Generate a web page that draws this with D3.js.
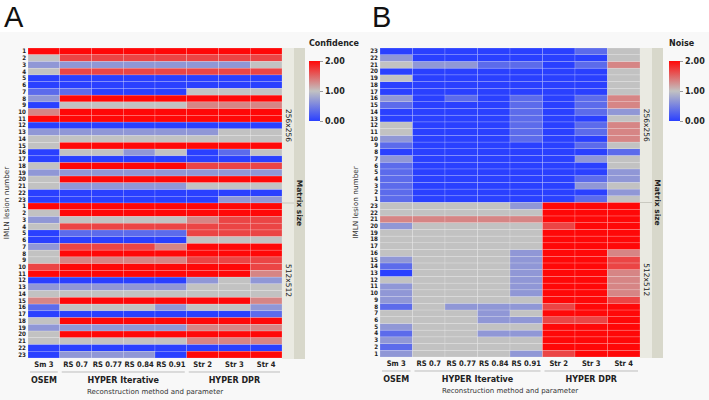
<!DOCTYPE html>
<html>
<head>
<meta charset="utf-8">
<script src="https://cdn.jsdelivr.net/npm/d3@7"></script>
<style>
body { margin: 0; background: #fff; }
svg { font-family: "DejaVu Sans", Verdana, sans-serif; display: block; }
</style>
</head>
<body>
<div id="chart"></div>
<script>
// columns of both heatmaps
const methods = ["Sm 3", "RS 0.7", "RS 0.77", "RS 0.84", "RS 0.91", "Str 2", "Str 3", "Str 4"];
const groupNames = ["OSEM", "HYPER Iterative", "HYPER DPR"];
const groupFirst = ["Sm 3", "RS 0.7", "Str 2"];
const groupLast = ["Sm 3", "RS 0.91", "Str 4"];
const lesions = [1, 2, 3, 4, 5, 6, 7, 8, 9, 10, 11, 12, 13, 14, 15, 16, 17, 18, 19, 20, 21, 22, 23];
const matrixSizes = ["256x256", "512x512"];

// panel A - confidence, one row per lesion (1..23)
const confidence256 = [
    [2, 2, 2, 2, 2, 2, 2, 2],
    [1, 1.67, 1.67, 1.67, 1.67, 1.67, 1.67, 1.67],
    [0.67, 0.67, 0.67, 0.67, 0.67, 0.67, 0.67, 1],
    [1, 1.67, 1.67, 1.67, 1.67, 1.67, 1.67, 1.67],
    [0, 0, 0, 0, 0, 0, 0, 0],
    [0, 0, 0, 0, 0, 0, 0, 0],
    [0.33, 0.33, 0, 0, 0, 1, 1, 1],
    [0.67, 2, 2, 2, 2, 2, 2, 2],
    [0, 1, 1, 1, 1, 1.33, 1.33, 1.33],
    [1.33, 2, 2, 2, 2, 2, 2, 2],
    [2, 2, 2, 2, 2, 2, 2, 2],
    [0, 0, 0, 0, 0, 0, 0, 0],
    [0.67, 0.67, 0.67, 0.67, 0.67, 0.67, 1, 1],
    [1, 1, 1, 1, 1, 1, 1, 1],
    [1, 2, 2, 2, 2, 2, 2, 2],
    [0, 1, 1, 0.67, 1, 0, 0.33, 1],
    [0, 0, 0, 0, 0, 0, 0, 0],
    [1, 2, 2, 2, 2, 1.67, 1.67, 1.67],
    [0.67, 0.67, 0.67, 0.67, 0.67, 0.67, 0.67, 0.67],
    [1, 2, 2, 2, 2, 2, 2, 2],
    [1, 0.67, 0.67, 0.67, 0.67, 1, 1, 1],
    [0, 0, 0, 0, 0, 0, 0, 0],
    [0, 0, 0, 0, 0, 0, 0.67, 0.67]
];
const confidence512 = [
    [2, 2, 2, 2, 2, 2, 2, 2],
    [1, 2, 2, 2, 2, 2, 2, 2],
    [0.67, 1, 1, 1, 1, 1.33, 1.67, 1.67],
    [1, 1.67, 1.67, 1.67, 1.67, 1.67, 1.67, 1.67],
    [0, 0.33, 0.33, 0.33, 0.33, 1.67, 1.67, 1.67],
    [0, 0, 0, 0, 0, 1, 1, 1],
    [0.67, 1.67, 1.67, 1.67, 1.33, 2, 2, 2],
    [1, 2, 2, 2, 2, 2, 2, 2],
    [1, 1.33, 1.33, 1.33, 1.33, 1.67, 1.67, 1.67],
    [1.67, 2, 2, 2, 2, 2, 2, 1.67],
    [2, 2, 2, 2, 2, 2, 2, 1.33],
    [0, 0, 0, 0, 0, 0.67, 1, 0.67],
    [0.67, 0.67, 0.67, 0.67, 0.67, 1, 1, 1],
    [1, 1, 1, 1, 1, 1, 1, 1],
    [1.33, 2, 2, 2, 2, 2, 2, 1.33],
    [0.33, 1, 1, 1, 0.67, 1, 1, 0.67],
    [0, 0, 0, 0, 0, 0, 0, 0.33],
    [1, 2, 2, 2, 2, 2, 2, 2],
    [0.67, 0.67, 0.67, 0.67, 0.67, 1.33, 1.33, 1.33],
    [1, 2, 2, 2, 2, 2, 2, 2],
    [1, 1, 1, 1, 1, 1.33, 1.33, 1.33],
    [0, 0, 0, 0, 0, 0, 0, 0],
    [0, 0.67, 0.67, 0.67, 0, 2, 2, 2]
];

// panel B - noise, one row per lesion (1..23)
const noise256 = [
    [0.33, 0, 0, 0, 0, 0, 0.33, 1],
    [0.33, 0, 0, 0, 0, 0, 0, 0.67],
    [0.33, 0, 0, 0, 0, 0, 0.67, 1],
    [0.33, 0, 0, 0, 0, 0, 0.33, 0.67],
    [0.33, 0, 0, 0, 0, 0, 0, 0.67],
    [0.33, 0, 0, 0, 0, 0, 0, 1],
    [0.67, 0, 0, 0, 0, 0, 0.67, 1],
    [0, 0, 0, 0, 0, 0, 0, 0.33],
    [0.33, 0, 0, 0, 0, 0, 0.33, 1],
    [0.67, 0, 0, 0, 0.33, 0, 0, 1.33],
    [1, 0, 0, 0, 0.33, 0, 0.33, 1.33],
    [1, 0, 0, 0, 0.33, 0, 0.33, 1.33],
    [0, 0, 0, 0, 0.33, 0, 0, 1],
    [0, 0, 0, 0, 0.33, 0, 0.33, 0.67],
    [0.33, 0, 0, 0, 0.33, 0, 0.33, 1.33],
    [0.67, 0, 0.33, 0, 0.33, 0, 0.33, 1.33],
    [0, 0, 0, 0, 0, 0, 0, 1],
    [0, 0, 0, 0, 0, 0, 0, 1],
    [1, 0, 0, 0, 0, 0, 0, 1],
    [0, 0, 0, 0, 0, 0, 0, 1],
    [1, 0.67, 0.67, 0.33, 0.33, 0, 0.33, 1.33],
    [0.67, 0, 0, 0, 0, 0, 0, 1],
    [0, 0, 0, 0, 0, 0, 0.33, 1]
];
const noise512 = [
    [0.67, 1, 1, 1, 0.67, 1.67, 2, 2],
    [0.33, 1, 1, 1, 1, 2, 2, 2],
    [0.67, 1, 1, 1, 1, 2, 2, 2],
    [0.33, 1, 1, 0.67, 0.67, 2, 2, 2],
    [0.67, 1, 1, 1, 1, 2, 2, 2],
    [1, 1, 1, 0.67, 0.67, 1.67, 1.67, 2],
    [1, 1, 1, 0.67, 1, 2, 2, 2],
    [0.33, 1, 0.67, 0.67, 0.67, 1.67, 2, 2],
    [0.67, 1, 1, 1, 1, 2, 2, 1.67],
    [0.67, 1, 1, 1, 0.67, 2, 2, 1.33],
    [0.67, 1, 1, 1, 0.67, 2, 2, 1.33],
    [1, 1, 1, 1, 0.67, 2, 2, 1.33],
    [0, 1, 1, 1, 0.67, 2, 2, 1.33],
    [0.33, 1, 1, 1, 0.67, 2, 2, 1.67],
    [0.67, 1, 1, 1, 0.67, 2, 2, 1.67],
    [1, 1, 1, 1, 0.67, 2, 2, 1.33],
    [1, 1, 1, 1, 1, 2, 2, 2],
    [1, 1, 1, 1, 1, 2, 2, 2],
    [1, 1, 1, 1, 1, 2, 2, 2],
    [0.67, 1, 1, 1, 1, 1.67, 2, 2],
    [1.33, 1.33, 1.33, 1.33, 1.33, 2, 2, 2],
    [1, 1, 1, 1, 1, 2, 2, 2],
    [1, 1, 1, 1, 0.67, 2, 2, 2]
];

const legendTicks = [0, 1, 2];

const width = 709;
const height = 400;
const narrow = "'DejaVu Sans Condensed', 'Liberation Sans Narrow', 'DejaVu Sans', sans-serif";

const svg = d3.select("#chart")
    .append("svg")
    .attr("width", width)
    .attr("height", height);

svg.append("rect")
    .attr("x", 0).attr("y", 32)
    .attr("width", width).attr("height", height - 32)
    .attr("fill", "#f8f8f8");

const color = d3.scaleLinear()
    .domain([0, 1, 2])
    .range(["#2a40ff", "#c2c2c2", "#ff0808"])
    .clamp(true);

const defs = svg.append("defs");
const grad = defs.append("linearGradient")
    .attr("id", "legendGrad")
    .attr("x1", 0).attr("y1", 0).attr("x2", 0).attr("y2", 1);
[2, 1, 0].forEach((v, i) => {
    grad.append("stop").attr("offset", (i * 50) + "%").attr("stop-color", color(v));
});

function drawPanel(p) {
    const g = svg.append("g");

    // row keys top to bottom
    const order = p.reversed ? lesions.slice().reverse() : lesions;
    const keys = [];
    matrixSizes.forEach(m => order.forEach(l => keys.push(m + "|" + l)));

    const x = d3.scaleBand().domain(methods).range([p.left, p.right]);
    const y = d3.scaleBand().domain(keys).range([p.top, p.bottom]);

    const cells = [];
    [p.values256, p.values512].forEach((rows, mi) => {
        rows.forEach((row, li) => {
            row.forEach((v, ci) => {
                cells.push({ key: matrixSizes[mi] + "|" + lesions[li], method: methods[ci], value: v });
            });
        });
    });

    g.selectAll("rect.cell")
        .data(cells)
        .enter()
        .append("rect")
        .attr("class", "cell")
        .attr("x", d => x(d.method))
        .attr("y", d => y(d.key))
        .attr("width", x.bandwidth())
        .attr("height", y.bandwidth())
        .attr("fill", d => color(d.value))
        .attr("stroke", "rgba(255,255,255,0.35)")
        .attr("stroke-width", 0.5);

    // row labels
    const yAxis = g.append("g")
        .attr("transform", `translate(${p.left},0)`)
        .call(d3.axisLeft(y).tickSize(0).tickPadding(2).tickFormat(k => k.split("|")[1]));
    yAxis.select(".domain").remove();
    yAxis.selectAll("text")
        .attr("font-size", 6.2)
        .attr("font-weight", "bold")
        .attr("fill", "#222")
        .attr("font-family", narrow);

    // column labels
    const xAxis = g.append("g")
        .attr("transform", `translate(0,${p.bottom})`)
        .call(d3.axisBottom(x).tickSize(0).tickPadding(4));
    xAxis.select(".domain").remove();
    xAxis.selectAll("text")
        .attr("font-size", 7.6)
        .attr("font-weight", "bold")
        .attr("fill", "#222")
        .attr("font-family", narrow);

    // method groups
    groupNames.forEach((name, i) => {
        const gx0 = x(groupFirst[i]) + 2;
        const gx1 = x(groupLast[i]) + x.bandwidth() - 2;
        g.append("line")
            .attr("x1", gx0).attr("x2", gx1)
            .attr("y1", p.bottom + 14).attr("y2", p.bottom + 14)
            .attr("stroke", "#bdbdbd");
        g.append("text")
            .attr("x", (gx0 + gx1) / 2)
            .attr("y", p.bottom + 25)
            .attr("text-anchor", "middle")
            .attr("font-size", 8)
            .attr("font-weight", "bold")
            .attr("fill", "#222")
            .text(name);
    });
    g.append("text")
        .attr("x", (p.left + p.right) / 2)
        .attr("y", p.bottom + 36)
        .attr("text-anchor", "middle")
        .attr("font-size", 7)
        .attr("fill", "#333")
        .text("Reconstruction method and parameter");

    // y title
    g.append("text")
        .attr("transform", `translate(${p.yTitleX},${(p.top + p.bottom) / 2}) rotate(-90)`)
        .attr("text-anchor", "middle")
        .attr("font-size", 7.3)
        .attr("fill", "#333")
        .text("IMLN lesion number");

    // matrix size strips
    const split = y(matrixSizes[1] + "|" + order[0]);
    g.append("rect")
        .attr("x", p.right).attr("y", p.top)
        .attr("width", 12).attr("height", p.bottom - p.top + 1)
        .attr("fill", "#eaeae2");
    g.append("rect")
        .attr("x", p.right + 12).attr("y", p.top)
        .attr("width", 11).attr("height", p.bottom - p.top + 1)
        .attr("fill", "#d8d8cb");
    g.append("line")
        .attr("x1", p.right).attr("x2", p.right + 12)
        .attr("y1", split).attr("y2", split)
        .attr("stroke", "#c9c9c0");
    matrixSizes.forEach((m, i) => {
        const cy = i === 0 ? (p.top + split) / 2 : (split + p.bottom) / 2;
        g.append("text")
            .attr("transform", `translate(${p.right + 4},${cy}) rotate(90)`)
            .attr("text-anchor", "middle")
            .attr("font-size", 7.5)
            .attr("fill", "#222")
            .text(m);
    });
    g.append("text")
        .attr("transform", `translate(${p.right + 15},${split}) rotate(90)`)
        .attr("text-anchor", "middle")
        .attr("font-size", 7.5)
        .attr("font-weight", "bold")
        .attr("fill", "#222")
        .text("Matrix size");

    // legend
    g.append("text")
        .attr("x", p.legendX)
        .attr("y", 46)
        .attr("font-size", 8)
        .attr("font-weight", "bold")
        .attr("fill", "#222")
        .text(p.legendTitle);
    g.append("rect")
        .attr("x", p.legendX).attr("y", 61)
        .attr("width", 11).attr("height", 60)
        .attr("fill", "url(#legendGrad)");
    const ly = d3.scaleLinear().domain([0, 2]).range([121, 61]);
    const lAxis = g.append("g")
        .attr("transform", `translate(${p.legendX + 11},0)`)
        .call(d3.axisRight(ly).tickValues(legendTicks).tickFormat(d3.format(".2f")).tickSize(3).tickPadding(2));
    lAxis.select(".domain").remove();
    lAxis.selectAll("line").attr("stroke", "#999");
    lAxis.selectAll("text")
        .attr("font-size", 8)
        .attr("font-weight", "bold")
        .attr("fill", "#222")
        .attr("font-family", "DejaVu Sans, sans-serif");

    // panel letter
    g.append("text")
        .attr("x", p.letterX)
        .attr("y", 27)
        .attr("font-size", 29)
        .attr("font-family", "Liberation Sans, Arial, sans-serif")
        .attr("fill", "#111")
        .text(p.letter);
}

drawPanel({
    letter: "A", letterX: 4,
    left: 28, right: 282, top: 48, bottom: 358,
    values256: confidence256, values512: confidence512,
    reversed: false, yTitleX: 9,
    legendTitle: "Confidence", legendX: 309
});

drawPanel({
    letter: "B", letterX: 372,
    left: 380, right: 640, top: 48, bottom: 357,
    values256: noise256, values512: noise512,
    reversed: true, yTitleX: 358,
    legendTitle: "Noise", legendX: 669
});
</script>
</body>
</html>
